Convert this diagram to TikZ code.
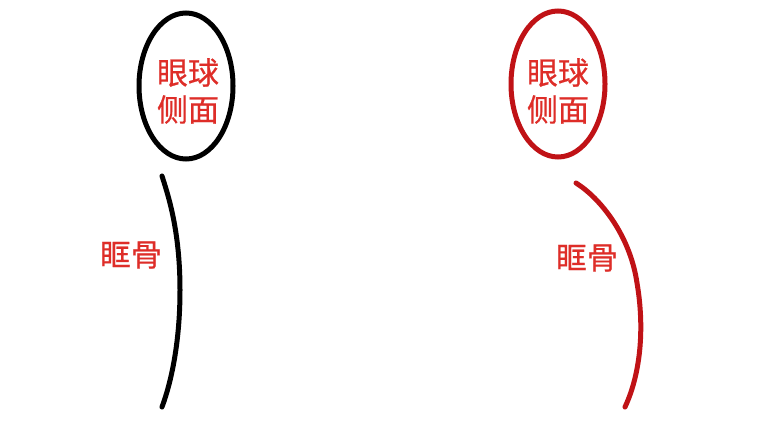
\documentclass[tikz,border=0pt]{standalone}
\usepackage{fontspec}
\newfontfamily\cjk[FakeBold=0.6]{Noto Sans CJK SC}
\usetikzlibrary{shapes.geometric}
\definecolor{lblred}{RGB}{222,45,40}
\definecolor{darkred}{RGB}{192,18,22}
\tikzset{
  eyeball/.style={ellipse, draw, line width=5pt, minimum width=94pt, minimum height=146pt, inner sep=0pt},
  lbl/.style={text=lblred, font=\cjk\fontsize{31}{37}\selectfont, align=center, inner sep=0pt},
  bone/.style={line width=5pt, line cap=round}
}
\begin{document}
\begin{tikzpicture}[x=1pt,y=-1pt]
\useasboundingbox (0,0) rectangle (775,443);
\fill[white] (0,0) rectangle (775,443);
% left
\node[eyeball, draw=black] (eyeL) at (186,86) {};
\node[lbl] (txtL) at (188,91) {眼球\\侧面};
\coordinate (bL1) at (162,176);
\coordinate (bL2) at (180,290);
\coordinate (bL4) at (162,407);
\draw[bone, black] (bL1) .. controls (168,195) and (180,230) .. (bL2)
  .. controls (180,340) and (172,380) .. (bL4);
\node[lbl] (boneL) at (131,255) {眶骨};
% right
\node[eyeball, draw=darkred] (eyeR) at (558,84) {};
\node[lbl] (txtR) at (558,91) {眼球\\侧面};
\coordinate (bR1) at (576,183);
\coordinate (bR2) at (637,283);
\coordinate (bR3) at (625,407);
\draw[bone, darkred] (bR1) .. controls (600,198) and (630,235) .. (bR2)
  .. controls (645,330) and (640,375) .. (bR3);
\node[lbl] (boneR) at (587,258) {眶骨};
\end{tikzpicture}
\end{document}
